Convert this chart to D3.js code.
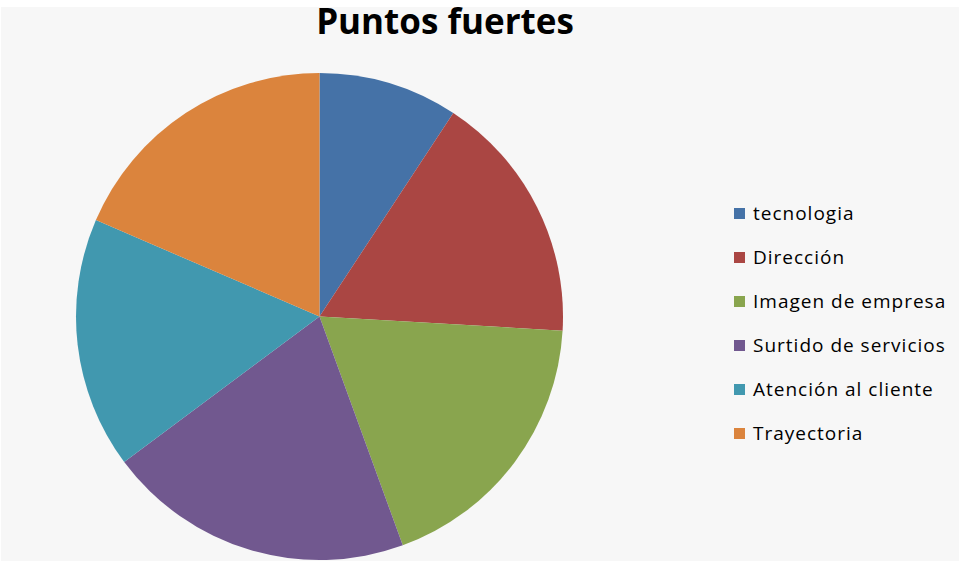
<!DOCTYPE html>
<html>
<head>
<meta charset="utf-8">
<script src="https://cdn.jsdelivr.net/npm/d3@7"></script>
<style>
  html, body { margin: 0; padding: 0; background: #ffffff; }
  svg { display: block; }
</style>
</head>
<body>
<svg id="chart" width="960" height="563"></svg>
<script>
const categories = ["tecnologia", "Dirección", "Imagen de empresa", "Surtido de servicios", "Atención al cliente", "Trayectoria"];
const values = [5, 9, 10, 11, 9, 10];
const colors = ["#4572a7", "#aa4643", "#89a54e", "#71588f", "#4198af", "#db843d"];
const title = "Puntos fuertes";

const svg = d3.select("#chart");
const W = 960, H = 563;

// chart area panel
svg.append("rect")
  .attr("x", 1).attr("y", 7)
  .attr("width", W - 2).attr("height", H - 9)
  .attr("fill", "#f7f7f7");

const cx = 319.5, cy = 316.5, r = 243.5;

const pie = d3.pie().sort(null).value(d => d)
  .startAngle(0).endAngle(2 * Math.PI);
const arc = d3.arc().innerRadius(0).outerRadius(r);

const color = d3.scaleOrdinal().domain(categories).range(colors);

const g = svg.append("g").attr("transform", `translate(${cx},${cy})`);
g.selectAll("path")
  .data(pie(values))
  .join("path")
  .attr("d", arc)
  .attr("fill", (d, i) => color(categories[i]));

svg.append("text")
  .attr("x", 445).attr("y", 34)
  .attr("text-anchor", "middle")
  .attr("font-family", "'Open Sans', Lato, sans-serif")
  .attr("font-weight", "bold")
  .attr("font-size", 35)
  .attr("fill", "#000")
  .text(title);

// legend
const legend = svg.append("g").attr("transform", "translate(734,213)");
const y = d3.scalePoint().domain(categories).range([0, 220]);
const items = legend.selectAll("g")
  .data(categories)
  .join("g")
  .attr("transform", d => `translate(0,${y(d)})`);
items.append("rect")
  .attr("x", 0).attr("y", -5)
  .attr("width", 11).attr("height", 11)
  .attr("fill", d => color(d));
items.append("text")
  .attr("x", 19).attr("y", 0)
  .attr("dy", "0.35em")
  .attr("font-family", "'Open Sans', Lato, sans-serif")
  .attr("font-size", 19)
  .attr("font-weight", 500)
  .attr("letter-spacing", 1)
  .attr("fill", "#000")
  .text(d => d);
</script>
</body>
</html>
